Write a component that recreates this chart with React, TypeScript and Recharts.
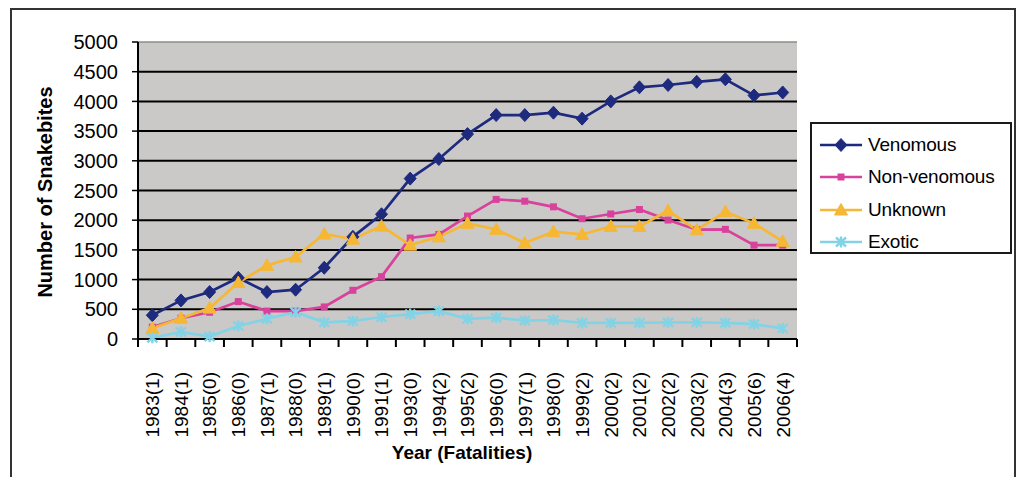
import React from 'react';
import { LineChart, Line, XAxis, YAxis, CartesianGrid, Legend, ReferenceLine } from 'recharts';

const years = ['1983(1)', '1984(1)', '1985(0)', '1986(0)', '1987(1)', '1988(0)', '1989(1)', '1990(0)', '1991(1)', '1993(0)', '1994(2)', '1995(2)', '1996(0)', '1997(1)', '1998(0)', '1999(2)', '2000(2)', '2001(2)', '2002(2)', '2003(2)', '2004(3)', '2005(6)', '2006(4)'];
const venomous = [400, 650, 790, 1030, 790, 830, 1200, 1720, 2100, 2700, 3030, 3450, 3770, 3770, 3810, 3710, 4000, 4237, 4276, 4330, 4372, 4100, 4150];
const nonVenomous = [200, 350, 450, 630, 470, 470, 540, 820, 1050, 1700, 1760, 2070, 2350, 2320, 2225, 2025, 2105, 2180, 2003, 1840, 1846, 1580, 1580];
const unknown = [180, 350, 520, 950, 1240, 1380, 1768, 1680, 1900, 1580, 1720, 1947, 1846, 1615, 1807, 1760, 1895, 1895, 2160, 1838, 2144, 1947, 1645];
const exotic = [20, 120, 40, 220, 340, 450, 280, 300, 370, 420, 470, 340, 360, 310, 320, 270, 270, 270, 280, 280, 270, 250, 180];
const yTicks = [0, 500, 1000, 1500, 2000, 2500, 3000, 3500, 4000, 4500, 5000];
const gridValues = [500, 1000, 1500, 2000, 2500, 3000, 3500, 4000, 4500];

const seriesNames = ['Venomous', 'Non-venomous', 'Unknown', 'Exotic'];
const seriesKeys = ['venomous', 'nonVenomous', 'unknown', 'exotic'];
const seriesColors = ['#1d2a7e', '#d8429c', '#f6b734', '#82d3e6'];

const data = years.map((y, i) => ({
  year: y,
  venomous: venomous[i],
  nonVenomous: nonVenomous[i],
  unknown: unknown[i],
  exotic: exotic[i],
}));

const W = 1022;
const H = 477;
const MARGIN = { top: 42, right: 225, left: 0, bottom: 0 };
const YAXIS_W = 138;
const XAXIS_H = 138;
const PLOT_W = W - MARGIN.right - MARGIN.left - YAXIS_W;
const FONT = '"Liberation Sans", Arial, Helvetica, sans-serif';

function Marker({ kind, cx, cy, color }: { kind: number; cx: number; cy: number; color: string }) {
  if (kind === 0) {
    return <path d={`M${cx},${cy - 6.5} L${cx + 6},${cy} L${cx},${cy + 6.5} L${cx - 6},${cy} Z`} fill={color} stroke={color} strokeWidth={1} strokeLinejoin="round" />;
  }
  if (kind === 1) {
    return <rect x={cx - 3.5} y={cy - 3.5} width={7} height={7} fill={color} />;
  }
  if (kind === 2) {
    return <path d={`M${cx},${cy - 6.5} L${cx + 6.5},${cy + 5} L${cx - 6.5},${cy + 5} Z`} fill={color} stroke={color} strokeWidth={1} strokeLinejoin="round" />;
  }
  return (
    <g stroke={color} strokeWidth={2.4}>
      <line x1={cx - 5} y1={cy - 4.5} x2={cx + 5} y2={cy + 4.5} />
      <line x1={cx - 5} y1={cy + 4.5} x2={cx + 5} y2={cy - 4.5} />
      <line x1={cx} y1={cy - 5.5} x2={cx} y2={cy + 5.5} />
    </g>
  );
}

const makeDot = (kind: number, color: string) => (p: any) => (
  <g key={`d-${kind}-${p.index}`}>
    <Marker kind={kind} cx={p.cx} cy={p.cy} color={color} />
  </g>
);

function XTick(props: any) {
  const { x, y, payload, index } = props;
  const bw = PLOT_W / years.length;
  const ty = y + 33;
  return (
    <g>
      <line x1={x - bw / 2} x2={x - bw / 2} y1={y} y2={y + 8} stroke="#000" strokeWidth={2} />
      {index === years.length - 1 && (
        <line x1={x + bw / 2} x2={x + bw / 2} y1={y} y2={y + 8} stroke="#000" strokeWidth={2} />
      )}
      <text
        x={x}
        y={ty}
        dy="0.36em"
        transform={`rotate(-90 ${x} ${ty})`}
        textAnchor="end"
        fontSize={19}
        fontFamily={FONT}
        fill="#000"
      >
        {payload.value}
      </text>
    </g>
  );
}

function LegendBox() {
  return (
    <div
      style={{
        width: 202,
        height: 132,
        boxSizing: 'border-box',
        border: '2px solid #1a1a1a',
        background: '#fff',
        paddingTop: 5,
        fontFamily: FONT,
      }}
    >
      {seriesNames.map((name, i) => (
        <div key={name} style={{ display: 'flex', alignItems: 'center', height: 32.3 }}>
          <svg width={50} height={20} style={{ marginLeft: 4 }}>
            <line x1={4} x2={46} y1={10} y2={10} stroke={seriesColors[i]} strokeWidth={2.5} />
            <Marker kind={i} cx={25} cy={10} color={seriesColors[i]} />
          </svg>
          <span style={{ fontSize: 19, color: '#000', marginLeft: 2, letterSpacing: -0.2 }}>{name}</span>
        </div>
      ))}
    </div>
  );
}

export default function App() {
  return (
    <div style={{ position: 'absolute', left: 0, top: 0, width: W, height: H, background: '#fff', overflow: 'hidden' }}>
      <div
        style={{
          position: 'absolute',
          left: 10,
          top: 8,
          width: 1006,
          height: 500,
          boxSizing: 'border-box',
          border: '2px solid #333',
        }}
      />
      <div style={{ position: 'absolute', left: 0, top: 0 }}>
        <LineChart width={W} height={H} data={data} margin={MARGIN}>
          <CartesianGrid
            vertical={false}
            horizontalValues={gridValues}
            stroke="#000"
            strokeWidth={2}
            fill="#cbc9c7"
            fillOpacity={1}
          />
          <ReferenceLine y={5000} stroke="#8c8c8c" strokeWidth={1.5} />
          <XAxis
            dataKey="year"
            height={XAXIS_H}
            interval={0}
            tickSize={0}
            tickMargin={0}
            tickLine={false}
            padding={{ left: PLOT_W / years.length / 2, right: PLOT_W / years.length / 2 }}
            axisLine={{ stroke: '#000', strokeWidth: 2 }}
            tick={<XTick />}
            label={{
              content: () => (
                <text x={462} y={452} textAnchor="middle" dominantBaseline="central" fontSize={19} fontWeight="bold" fontFamily={FONT} fill="#000">
                  Year (Fatalities)
                </text>
              ),
            }}
          />
          <YAxis
            width={YAXIS_W}
            domain={[0, 5000]}
            ticks={yTicks}
            interval={0}
            tickSize={6}
            tickMargin={14}
            axisLine={{ stroke: '#000', strokeWidth: 2 }}
            tickLine={{ stroke: '#000', strokeWidth: 1.5 }}
            tick={{ fontSize: 20, fill: '#000', fontFamily: FONT }}
            label={{
              content: () => (
                <text x={45} y={192} transform="rotate(-90 45 192)" textAnchor="middle" dominantBaseline="central" fontSize={20} fontWeight="bold" fontFamily={FONT} fill="#000">
                  Number of Snakebites
                </text>
              ),
            }}
          />
          <YAxis
            yAxisId="border"
            orientation="right"
            width={0}
            domain={[0, 5000]}
            tick={false}
            tickLine={false}
            axisLine={{ stroke: '#8c8c8c', strokeWidth: 1.5 }}
          />
          <Legend
            layout="horizontal"
            align="center"
            verticalAlign="middle"
            content={<LegendBox />}
            wrapperStyle={{ position: 'absolute', left: 810, top: 122, width: 202, height: 132 }}
          />
          {seriesKeys.map((k, i) => (
            <Line
              key={k}
              type="linear"
              dataKey={k}
              name={seriesNames[i]}
              stroke={seriesColors[i]}
              strokeWidth={2.7}
              dot={makeDot(i, seriesColors[i])}
              activeDot={false}
              isAnimationActive={false}
            />
          ))}
        </LineChart>
      </div>
    </div>
  );
}
